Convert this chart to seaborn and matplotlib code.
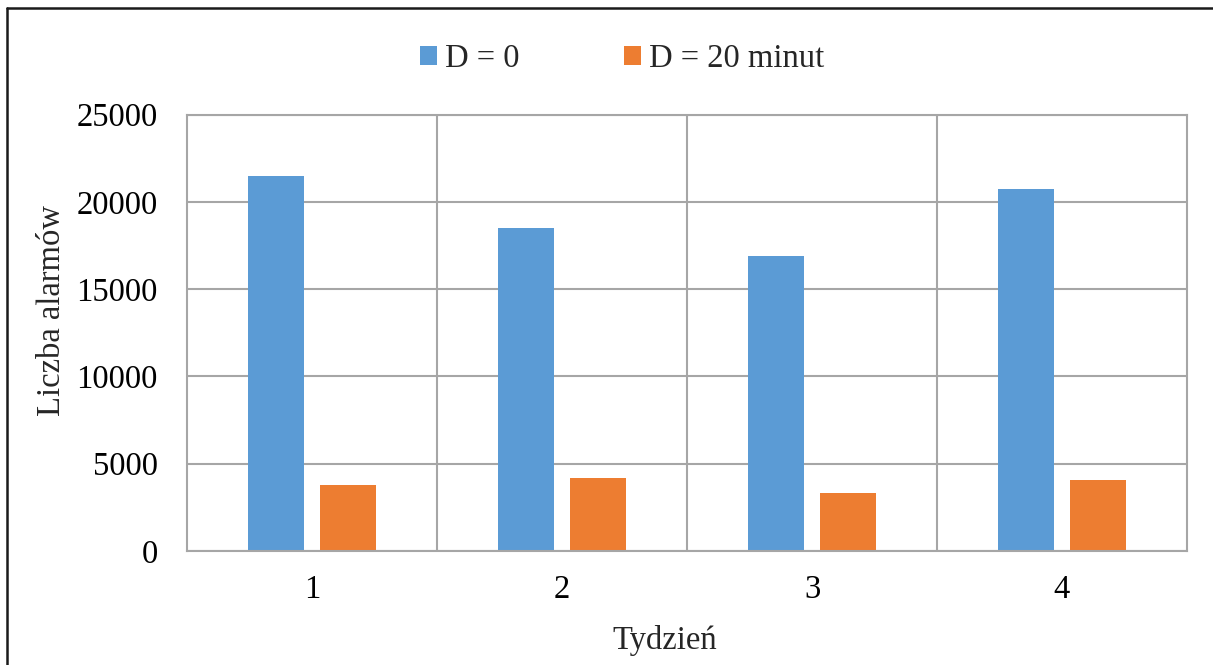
import matplotlib
matplotlib.use("Agg")
import matplotlib.pyplot as plt
from matplotlib.lines import Line2D
import seaborn as sns
import pandas as pd

# Weekly alarm counts for two debounce settings
weeks = ["1", "2", "3", "4"]
series_names = ["D = 0", "D = 20 minut"]
alarms_d0 = [21450, 18500, 16900, 20750]
alarms_d20 = [3780, 4160, 3300, 4080]
y_ticks = [0, 5000, 10000, 15000, 20000, 25000]
colors = ["#5B9BD5", "#ED7D31"]

df = pd.DataFrame({
    "Tydzień": weeks * 2,
    "Liczba alarmów": alarms_d0 + alarms_d20,
    "Seria": [series_names[0]] * len(weeks) + [series_names[1]] * len(weeks),
})

sns.set_theme(style="white")
plt.rcParams["font.family"] = ["Liberation Serif", "DejaVu Serif"]
plt.rcParams["font.size"] = 23.5

W, H = 1213, 665
fig = plt.figure(figsize=(W / 100, H / 100), dpi=100)
ax = fig.add_axes([187 / W, 1 - 551 / H, (1187 - 187) / W, (551 - 114.5) / H])

sns.barplot(data=df, x="Tydzień", y="Liczba alarmów", hue="Seria",
            palette=colors, saturation=1, width=0.571, gap=0.216,
            linewidth=0, ax=ax, legend=True)

grid_col = "#A6A6A6"
ax.set_ylim(0, 25000)
ax.set_xlim(-0.5, len(weeks) - 0.5)
ax.set_yticks(y_ticks)
ax.set_yticklabels([str(t) for t in y_ticks])
ax.set_xticks(range(len(weeks)))
ax.set_xticklabels(weeks)
ax.set_xticks([i + 0.5 for i in range(len(weeks) - 1)], minor=True)
ax.yaxis.grid(True, color=grid_col, linewidth=1.5)
ax.xaxis.grid(True, which="minor", color=grid_col, linewidth=1.5)
ax.xaxis.grid(False, which="major")
ax.set_axisbelow(True)
for sp in ax.spines.values():
    sp.set_visible(True)
    sp.set_color(grid_col)
    sp.set_linewidth(1.5)
ax.tick_params(axis="both", which="both", length=0, labelsize=23.5, colors="black")
ax.tick_params(axis="y", pad=21)
ax.tick_params(axis="x", pad=17)

ax.set_xlabel("Tydzień", fontsize=23.5)
ax.set_ylabel("Liczba alarmów", fontsize=23.5)
ax.xaxis.set_label_coords((665 - 187) / 1000, (551 - 625) / 436.5)
ax.yaxis.set_label_coords((67 - 187) / 1000, (551 - 311) / 436.5)

handles, labels = ax.get_legend_handles_labels()
ax.legend(handles, labels, loc="center", bbox_to_anchor=(622 / W, 1 - 59 / H),
          bbox_transform=fig.transFigure, ncol=2, frameon=False,
          handlelength=0.52, handleheight=0.52, handletextpad=0.25,
          columnspacing=3.2, fontsize=23.5)

# Outer chart border (top and left edges)
fig.add_artist(Line2D([7 / W, 1.0], [1 - 8 / H, 1 - 8 / H], color="#1a1a1a",
                      linewidth=1.8, transform=fig.transFigure))
fig.add_artist(Line2D([7 / W, 7 / W], [0.0, 1 - 8 / H], color="#1a1a1a",
                      linewidth=1.8, transform=fig.transFigure))

fig.savefig("out.png", dpi=100, facecolor="white")
